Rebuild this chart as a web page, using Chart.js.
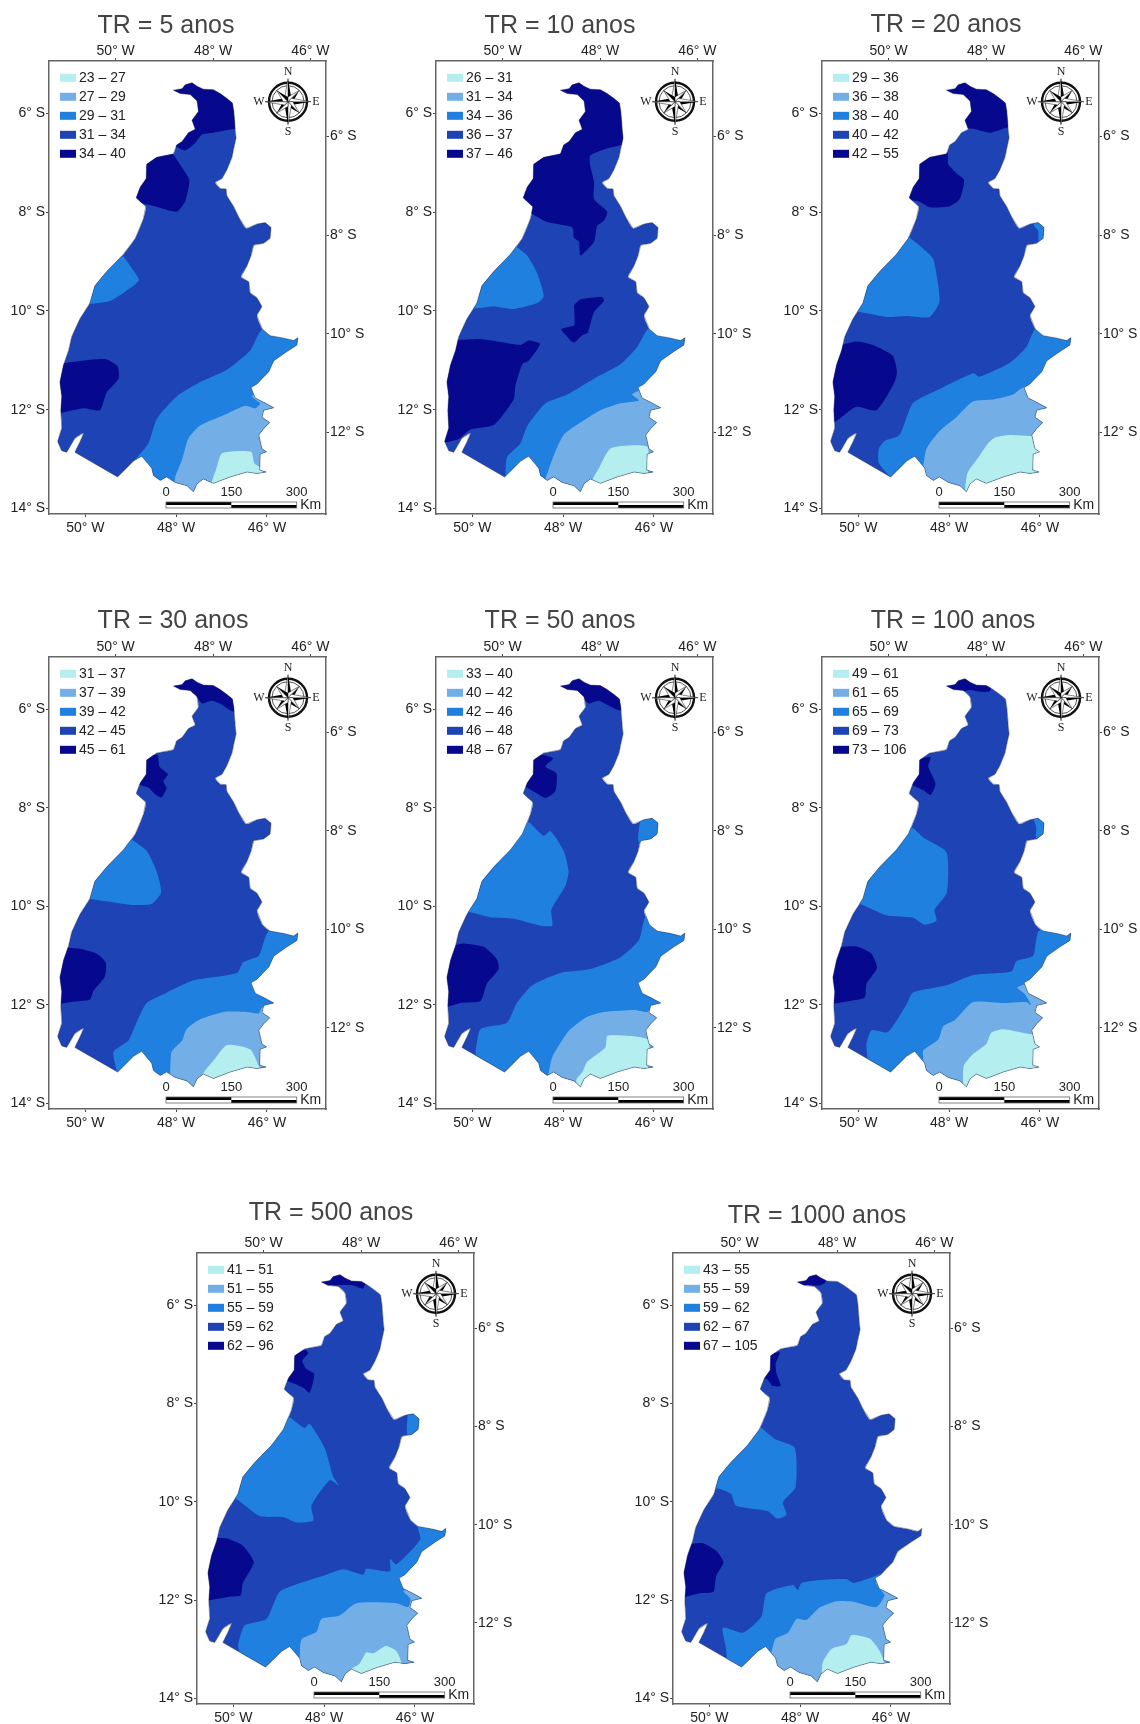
<!DOCTYPE html>
<html>
<head>
<meta charset="utf-8">
<script src="https://cdn.jsdelivr.net/npm/chart.js@4/dist/chart.umd.min.js"></script>
<style>
html, body { margin: 0; padding: 0; background: #fff; overflow: hidden; }
#page { position: relative; width: 1140px; height: 1724px; }
canvas { position: absolute; }
</style>
</head>
<body>
<div id="page"></div>
<script>
"use strict";
// all map data in degrees, [longitude W, latitude S]
const stateOutline = [[48.06,5.53],[47.87,5.50],[47.80,5.42],[47.65,5.38],[47.54,5.45],[47.40,5.51],[47.18,5.52],[47.03,5.60],[46.88,5.70],[46.76,5.79],[46.73,5.96],[46.71,6.18],[46.70,6.32],[46.68,6.50],[46.73,6.71],[46.77,6.89],[46.88,7.14],[46.99,7.32],[47.14,7.40],[47.03,7.52],[46.90,7.53],[46.88,7.67],[46.73,7.89],[46.62,8.10],[46.46,8.33],[46.22,8.24],[46.04,8.21],[45.91,8.31],[45.93,8.53],[46.07,8.63],[46.29,8.67],[46.35,8.88],[46.44,9.09],[46.57,9.31],[46.40,9.41],[46.37,9.63],[46.22,9.73],[46.11,9.91],[46.22,10.09],[46.10,10.37],[45.93,10.50],[45.63,10.55],[45.41,10.60],[45.32,10.54],[45.34,10.69],[45.56,10.82],[45.85,11.01],[45.96,11.23],[46.11,11.37],[46.22,11.48],[46.35,11.55],[46.26,11.76],[46.07,11.85],[45.85,11.96],[46.07,12.01],[46.11,12.15],[45.94,12.26],[46.07,12.38],[46.18,12.51],[46.11,12.79],[46.01,12.85],[46.15,12.90],[46.16,13.22],[46.02,13.26],[46.22,13.29],[46.44,13.26],[46.81,13.36],[47.18,13.49],[47.40,13.40],[47.54,13.50],[47.62,13.66],[47.76,13.54],[48.02,13.47],[48.21,13.36],[48.35,13.43],[48.50,13.33],[48.54,13.18],[48.76,12.94],[48.94,13.04],[49.29,13.36],[50.23,12.86],[50.12,12.65],[50.04,12.47],[50.23,12.58],[50.41,12.86],[50.52,12.83],[50.61,12.64],[50.52,12.37],[50.54,12.01],[50.52,11.73],[50.56,11.44],[50.48,11.09],[50.37,10.80],[50.30,10.52],[50.12,10.16],[49.90,9.84],[49.79,9.49],[49.53,9.20],[49.16,8.85],[48.90,8.53],[48.72,8.13],[48.67,7.89],[48.88,7.71],[48.79,7.49],[48.66,7.32],[48.65,7.03],[48.43,6.89],[48.06,6.82],[47.99,6.64],[47.87,6.57],[47.73,6.39],[47.58,6.32],[47.65,6.14],[47.51,5.96],[47.54,5.75],[47.69,5.62],[47.91,5.60]];

// each zone is [class index, polygon]; it may run past the border, the state outline clips it
const zonesTR5 = [
    [2, [[48.90,13.01],[48.61,12.68],[48.43,12.19],[47.99,11.73],[47.47,11.44],[46.88,11.19],[46.37,10.80],[46.10,10.37],[45.26,10.30],[45.26,13.79],[48.72,13.79]]],
    [1, [[48.06,13.65],[48.02,13.36],[47.87,13.01],[47.73,12.58],[47.47,12.32],[46.88,12.08],[46.48,11.92],[46.26,11.97],[46.15,11.87],[46.33,11.73],[46.18,11.65],[45.71,11.80],[45.71,13.79],[48.06,13.79]]],
    [0, [[47.29,13.65],[47.10,13.15],[46.99,12.88],[46.35,12.85],[46.28,13.08],[46.11,13.21],[45.93,13.79],[47.29,13.79]]],
    [2, [[49.16,8.90],[48.98,9.13],[48.82,9.38],[49.09,9.59],[49.46,9.80],[49.90,9.86],[50.19,9.86],[49.68,8.81]]],
    [4, [[47.99,6.68],[47.80,6.75],[47.58,6.60],[47.43,6.43],[47.18,6.39],[46.70,6.31],[46.37,6.31],[46.37,5.25],[48.21,5.25],[48.21,6.68]]],
    [4, [[48.94,7.78],[48.43,7.89],[47.99,7.99],[47.80,7.78],[47.71,7.35],[47.87,7.10],[48.06,6.84],[48.21,6.68],[48.94,6.68]]],
    [4, [[50.78,11.09],[49.82,10.98],[49.53,10.98],[49.29,11.12],[49.27,11.37],[49.53,11.65],[49.68,12.01],[50.04,11.97],[50.52,12.06],[50.78,12.06]]]
];
const zonesTR10 = [
    [2, [[49.27,13.35],[49.24,12.97],[48.94,12.68],[48.79,12.33],[48.39,11.87],[47.91,11.69],[47.32,11.37],[46.74,11.08],[46.37,10.73],[46.10,10.34],[45.26,10.30],[45.26,13.79],[49.09,13.79]]],
    [1, [[48.39,13.40],[48.21,12.93],[47.99,12.51],[47.62,12.26],[47.18,12.01],[46.74,11.87],[46.33,11.81],[46.48,11.69],[46.33,11.62],[45.78,11.73],[45.78,13.79],[48.43,13.79]]],
    [0, [[47.40,13.79],[47.38,13.47],[47.21,13.18],[46.95,12.78],[46.15,12.75],[46.13,13.26],[45.93,13.79]]],
    [2, [[49.03,8.70],[48.79,8.88],[48.57,9.24],[48.43,9.70],[48.57,9.84],[49.09,9.96],[49.53,9.91],[49.93,9.95],[50.19,9.95],[49.60,8.60]]],
    [4, [[46.70,6.64],[47.03,6.71],[47.40,6.85],[47.41,7.03],[47.32,7.39],[47.32,7.74],[47.03,7.99],[47.10,8.17],[47.25,8.28],[47.32,8.60],[47.62,8.88],[47.65,8.60],[47.76,8.52],[47.80,8.31],[48.35,8.20],[48.68,8.04],[48.94,7.96],[48.94,5.11],[46.44,5.11],[46.44,6.64]]],
    [4, [[47.76,9.88],[47.62,9.77],[47.14,9.72],[47.10,9.80],[47.32,10.02],[47.46,10.44],[47.58,10.49],[47.76,10.64],[47.91,10.52],[48.04,10.37],[47.76,10.29],[47.75,10.09]]],
    [4, [[50.34,10.59],[49.82,10.57],[48.94,10.69],[48.76,10.60],[48.51,10.67],[48.76,11.01],[48.90,11.08],[49.05,11.51],[49.09,11.79],[49.53,12.31],[50.04,12.40],[50.30,12.59],[50.60,12.66],[50.93,12.66],[50.93,10.59]]]
];
const zonesTR20 = [
    [2, [[49.31,13.35],[49.55,13.08],[49.55,12.79],[49.42,12.63],[49.09,12.51],[48.80,11.87],[48.21,11.58],[47.47,11.26],[47.33,11.33],[46.66,11.05],[46.30,10.73],[46.08,10.34],[45.27,10.30],[45.27,13.79],[49.09,13.79]]],
    [1, [[48.57,13.15],[48.50,12.79],[48.21,12.43],[47.84,12.15],[47.47,11.83],[47.03,11.79],[46.59,11.69],[46.37,11.55],[45.78,11.51],[45.78,13.79],[48.57,13.79]]],
    [0, [[47.66,13.79],[47.60,13.29],[47.33,12.93],[47.14,12.68],[46.99,12.56],[46.66,12.51],[46.22,12.53],[45.78,12.53],[45.78,13.79]]],
    [2, [[48.88,8.51],[48.57,8.74],[48.35,8.95],[48.21,9.80],[48.43,10.12],[48.94,10.10],[49.38,10.12],[49.97,10.02],[50.27,10.02],[49.60,8.45]]],
    [2, [[46.13,8.28],[46.04,8.38],[46.02,8.63],[45.78,8.63],[45.78,8.13],[46.13,8.13]]],
    [4, [[47.68,6.31],[47.47,6.31],[47.10,6.39],[46.70,6.28],[46.37,6.28],[46.37,5.11],[48.21,5.11],[48.21,6.31]]],
    [4, [[49.02,7.76],[48.68,7.78],[48.43,7.90],[47.99,7.88],[47.77,7.74],[47.67,7.35],[47.84,7.21],[48.02,7.03],[48.05,6.78],[49.02,6.78]]],
    [4, [[50.38,10.69],[50.05,10.62],[49.68,10.69],[49.24,10.91],[49.15,11.23],[49.20,11.44],[49.60,12.01],[50.05,11.94],[50.54,12.26],[50.85,12.26],[50.85,10.69]]]
];
const zonesTR30 = [
    [2, [[49.31,13.33],[49.38,12.95],[49.05,12.72],[48.87,12.35],[48.65,11.96],[48.21,11.75],[47.62,11.50],[46.66,11.35],[46.52,11.13],[46.18,11.00],[45.96,10.50],[45.26,10.43],[45.26,13.77],[48.94,13.77]]],
    [1, [[48.13,13.33],[48.10,12.95],[47.87,12.72],[47.77,12.49],[47.47,12.29],[46.96,12.14],[46.44,12.14],[46.18,12.17],[46.11,12.05],[45.78,12.05],[45.78,13.77],[48.13,13.77]]],
    [0, [[47.41,13.77],[47.41,13.40],[47.18,13.13],[46.88,12.81],[46.37,12.90],[46.18,13.24],[45.93,13.77]]],
    [2, [[48.98,8.64],[48.65,8.87],[48.43,9.29],[48.33,9.72],[48.54,9.95],[48.94,9.97],[49.31,9.93],[49.90,9.85],[50.19,9.85],[49.53,8.58]]],
    [4, [[47.58,5.70],[47.43,5.88],[47.21,5.83],[46.99,5.91],[46.77,6.04],[46.44,6.04],[46.44,5.24],[48.21,5.24],[48.21,5.70]]],
    [4, [[48.72,6.95],[48.41,6.93],[48.37,7.16],[48.18,7.32],[48.28,7.46],[48.21,7.60],[48.32,7.79],[48.46,7.73],[48.61,7.59],[48.81,7.53],[48.98,7.44]]],
    [4, [[50.37,10.84],[50.12,10.86],[49.75,10.96],[49.55,11.14],[49.57,11.42],[49.82,11.71],[49.90,11.89],[50.30,11.94],[50.52,11.97],[50.78,11.97],[50.78,10.84]]]
];
const zonesTR50 = [
    [2, [[49.93,12.95],[49.82,12.49],[49.24,12.36],[49.02,11.96],[48.68,11.60],[48.06,11.35],[47.40,11.27],[46.74,11.03],[46.33,10.68],[46.15,10.15],[45.27,10.07],[45.27,13.77],[49.82,13.77]]],
    [1, [[48.32,13.38],[48.24,13.06],[47.88,12.53],[47.47,12.24],[47.10,12.14],[46.44,12.10],[46.15,12.14],[46.04,12.05],[45.71,12.05],[45.71,13.77],[48.32,13.77]]],
    [0, [[47.69,13.77],[47.71,13.52],[47.57,13.35],[47.47,13.15],[47.07,12.86],[47.02,12.62],[46.13,12.70],[46.13,13.24],[45.93,13.77]]],
    [2, [[48.74,8.30],[48.43,8.57],[48.28,8.47],[47.99,8.87],[47.88,9.29],[47.95,9.58],[48.26,10.07],[48.24,10.39],[48.50,10.39],[49.09,10.25],[49.60,10.22],[50.10,10.11],[50.34,10.11],[49.38,8.23]]],
    [2, [[46.31,8.28],[46.33,8.69],[45.78,8.69],[45.78,8.12],[46.31,8.12]]],
    [4, [[47.62,5.70],[47.44,5.88],[47.21,5.83],[46.96,5.95],[46.77,6.02],[46.44,6.02],[46.44,5.24],[48.21,5.24],[48.21,5.70]]],
    [4, [[48.72,6.95],[48.43,6.93],[48.22,7.00],[48.39,7.16],[48.15,7.30],[48.17,7.66],[48.39,7.80],[48.61,7.69],[48.80,7.59],[48.98,7.51]]],
    [4, [[50.40,10.79],[50.19,10.75],[49.75,10.82],[49.46,11.07],[49.42,11.27],[49.68,11.57],[49.82,11.92],[50.27,11.96],[50.52,12.03],[50.78,12.03],[50.78,10.79]]]
];
const zonesTR100 = [
    [2, [[49.81,13.00],[49.82,12.78],[49.71,12.51],[49.35,12.55],[48.94,11.99],[48.80,11.75],[48.06,11.60],[47.47,11.39],[46.63,11.32],[46.52,11.11],[46.15,11.00],[46.02,10.50],[45.19,10.43],[45.19,13.77],[49.68,13.77]]],
    [1, [[48.57,13.10],[48.57,12.92],[48.24,12.70],[48.13,12.43],[47.88,12.31],[47.47,11.94],[46.81,11.96],[46.30,11.94],[46.19,12.01],[46.33,11.78],[46.50,11.65],[46.30,11.58],[45.78,11.71],[45.78,13.77],[48.57,13.77]]],
    [0, [[47.69,13.77],[47.68,13.24],[47.47,12.99],[47.18,12.79],[47.07,12.56],[46.81,12.49],[46.15,12.60],[45.78,12.60],[45.78,13.77]]],
    [2, [[48.78,8.42],[48.57,8.60],[48.06,8.90],[48.05,9.72],[48.32,10.07],[48.28,10.29],[48.54,10.37],[48.80,10.23],[49.38,10.18],[49.97,9.95],[50.27,9.95],[49.46,8.33]]],
    [2, [[46.13,8.26],[46.08,8.40],[46.08,8.62],[45.78,8.62],[45.78,8.12],[46.13,8.12]]],
    [4, [[47.69,5.65],[47.55,5.61],[47.29,5.65],[47.10,5.63],[47.07,5.49],[47.07,5.24],[48.28,5.24],[48.28,5.65]]],
    [4, [[48.72,7.02],[48.41,6.97],[48.46,7.16],[48.30,7.51],[48.41,7.74],[48.57,7.64],[48.78,7.55],[48.94,7.48]]],
    [4, [[50.38,10.82],[50.05,10.81],[49.71,10.96],[49.59,11.25],[49.82,11.57],[49.86,11.85],[50.19,11.92],[50.52,11.97],[50.78,11.97],[50.78,10.82]]]
];
const zonesTR500 = [
    [2, [[49.90,12.91],[49.75,12.51],[49.27,12.38],[48.98,11.83],[48.46,11.63],[47.95,11.48],[47.58,11.37],[47.14,11.48],[47.07,11.36],[46.55,11.41],[46.55,11.16],[46.41,11.27],[46.04,10.95],[45.88,10.75],[45.93,10.48],[45.23,10.43],[45.23,14.00],[49.64,14.00]]],
    [1, [[48.54,13.32],[48.50,12.80],[48.17,12.64],[48.06,12.38],[47.66,12.31],[47.29,12.06],[46.41,12.06],[46.15,12.14],[46.10,11.97],[46.26,11.81],[45.75,11.81],[45.75,14.00],[48.54,14.00]]],
    [0, [[47.40,13.39],[47.22,13.29],[47.07,13.06],[46.92,13.08],[46.64,12.93],[46.41,13.03],[46.31,13.24],[46.31,14.00],[47.40,14.00]]],
    [2, [[48.74,8.29],[48.43,8.50],[48.32,8.41],[47.99,8.90],[47.80,9.49],[47.68,9.67],[47.88,9.56],[48.28,10.08],[48.24,10.38],[48.61,10.42],[48.91,10.31],[49.42,10.29],[49.94,9.94],[50.23,9.94],[49.49,8.17]]],
    [2, [[46.16,8.20],[46.16,8.64],[45.75,8.64],[45.75,8.10],[46.16,8.10]]],
    [4, [[47.95,5.60],[47.58,5.59],[47.36,5.60],[47.14,5.66],[47.08,5.48],[47.08,5.24],[48.24,5.24],[48.24,5.60]]],
    [4, [[48.80,6.98],[48.41,6.91],[48.35,6.98],[48.48,7.13],[48.39,7.30],[48.22,7.40],[48.32,7.78],[48.46,7.68],[48.65,7.60],[48.83,7.54]]],
    [4, [[50.34,10.73],[50.12,10.75],[49.79,10.89],[49.55,11.23],[49.79,11.65],[49.84,11.90],[50.08,11.93],[50.52,12.00],[50.74,12.00],[50.74,10.73]]]
];
const zonesTR1000 = [
    [2, [[49.63,12.99],[49.70,12.56],[49.26,12.66],[48.85,12.33],[48.74,11.86],[48.16,11.69],[48.05,11.79],[47.97,11.65],[47.42,11.58],[46.98,11.57],[46.83,11.65],[46.36,11.51],[46.17,11.44],[45.66,11.44],[45.66,14.00],[49.55,14.00]]],
    [1, [[48.63,13.05],[48.54,12.78],[48.27,12.66],[48.08,12.38],[47.86,12.40],[47.57,12.15],[47.20,12.02],[46.83,12.03],[46.32,12.14],[46.14,11.90],[46.23,11.78],[46.33,11.64],[45.66,11.64],[45.66,14.00],[48.63,14.00]]],
    [0, [[47.51,14.00],[47.51,13.29],[47.31,12.99],[46.98,12.89],[46.87,12.71],[46.47,12.78],[46.25,13.03],[46.14,13.29],[46.14,14.00]]],
    [2, [[48.85,8.50],[48.56,8.72],[48.12,8.90],[48.10,9.70],[48.38,10.01],[48.30,10.26],[48.51,10.34],[48.71,10.19],[49.41,10.08],[49.52,9.84],[49.81,9.73],[50.07,9.73],[49.55,8.38]]],
    [4, [[47.86,5.59],[47.57,5.60],[47.44,5.53],[47.44,5.24],[48.23,5.24],[48.23,5.59]]],
    [4, [[48.78,7.02],[48.45,6.96],[48.54,7.19],[48.52,7.39],[48.43,7.64],[48.61,7.64],[48.73,7.50],[48.85,7.50]]],
    [4, [[50.38,10.85],[50.14,10.84],[49.85,10.99],[49.69,11.23],[49.85,11.51],[49.91,11.83],[50.21,11.86],[50.52,11.93],[50.73,11.93],[50.73,10.85]]]
];

const lonTicks = [50, 48, 46];
const latTicksLeft = [6, 8, 10, 12, 14];
const latTicksRight = [6, 8, 10, 12];

const classesTR5 = ['23 – 27', '27 – 29', '29 – 31', '31 – 34', '34 – 40'];
const classesTR10 = ['26 – 31', '31 – 34', '34 – 36', '36 – 37', '37 – 46'];
const classesTR20 = ['29 – 36', '36 – 38', '38 – 40', '40 – 42', '42 – 55'];
const classesTR30 = ['31 – 37', '37 – 39', '39 – 42', '42 – 45', '45 – 61'];
const classesTR50 = ['33 – 40', '40 – 42', '42 – 46', '46 – 48', '48 – 67'];
const classesTR100 = ['49 – 61', '61 – 65', '65 – 69', '69 – 73', '73 – 106'];
const classesTR500 = ['41 – 51', '51 – 55', '55 – 59', '59 – 62', '62 – 96'];
const classesTR1000 = ['43 – 55', '55 – 59', '59 – 62', '62 – 67', '67 – 105'];

const classColors = ['#b4eeee', '#73afe6', '#1f80df', '#1e43b5', '#06098e'];
const TEXT_FONT = '"Liberation Sans", Arial, sans-serif';

// page placement of every map: canvas corner plus title anchor inside the canvas
const panels = [
    { title: 'TR = 5 anos', zones: zonesTR5, classes: classesTR5, left: 0, top: 0, height: 540, bottomGap: 26, titleX: 166, titleY: 26 },
    { title: 'TR = 10 anos', zones: zonesTR10, classes: classesTR10, left: 387, top: 0, height: 540, bottomGap: 26, titleX: 173, titleY: 26 },
    { title: 'TR = 20 anos', zones: zonesTR20, classes: classesTR20, left: 773, top: 0, height: 540, bottomGap: 26, titleX: 173, titleY: 25 },
    { title: 'TR = 30 anos', zones: zonesTR30, classes: classesTR30, left: 0, top: 596, height: 539, bottomGap: 26, titleX: 173, titleY: 25 },
    { title: 'TR = 50 anos', zones: zonesTR50, classes: classesTR50, left: 387, top: 596, height: 539, bottomGap: 26, titleX: 173, titleY: 25 },
    { title: 'TR = 100 anos', zones: zonesTR100, classes: classesTR100, left: 773, top: 596, height: 539, bottomGap: 26, titleX: 180, titleY: 25 },
    { title: 'TR = 500 anos', zones: zonesTR500, classes: classesTR500, left: 148, top: 1192, height: 532, bottomGap: 20, titleX: 183, titleY: 21 },
    { title: 'TR = 1000 anos', zones: zonesTR1000, classes: classesTR1000, left: 624, top: 1192, height: 532, bottomGap: 20, titleX: 193, titleY: 24 }
];

function tracePolygon(chart, points) {
    const { x, y } = chart.scales;
    const ctx = chart.ctx;
    ctx.beginPath();
    points.forEach((p, i) => {
        const px = x.getPixelForValue(p[0]);
        const py = y.getPixelForValue(p[1]);
        if (i === 0)
            ctx.moveTo(px, py);
        else
            ctx.lineTo(px, py);
    });
    ctx.closePath();
}

function drawCompass(ctx, cx, cy) {
    ctx.save();
    ctx.translate(cx, cy);
    ctx.strokeStyle = '#111';
    ctx.lineWidth = 2.4;
    ctx.beginPath();
    ctx.arc(0, 0, 19, 0, Math.PI * 2);
    ctx.stroke();
    ctx.lineWidth = 0.7;
    ctx.beginPath();
    ctx.arc(0, 0, 16, 0, Math.PI * 2);
    ctx.stroke();
    for (let i = 0; i < 8; i++) {
        const reach = i % 2 === 0 ? 23 : 16;
        ctx.save();
        ctx.rotate(i * Math.PI / 4);
        ctx.fillStyle = '#000';
        ctx.beginPath();
        ctx.moveTo(0, -reach);
        ctx.lineTo(3.4, -3.4);
        ctx.lineTo(0, 0);
        ctx.closePath();
        ctx.fill();
        ctx.fillStyle = '#fff';
        ctx.lineWidth = 0.5;
        ctx.beginPath();
        ctx.moveTo(0, -reach);
        ctx.lineTo(-3.4, -3.4);
        ctx.lineTo(0, 0);
        ctx.closePath();
        ctx.fill();
        ctx.stroke();
        ctx.restore();
    }
    ctx.fillStyle = '#222';
    ctx.font = '12px "Liberation Serif", serif';
    ctx.textAlign = 'center';
    ctx.textBaseline = 'middle';
    ctx.fillText('N', 0, -29.5);
    ctx.fillText('S', 0, 30);
    ctx.fillText('E', 28, 0.5);
    ctx.fillText('W', -29, 0);
    ctx.restore();
}

function drawScaleBar(ctx, area) {
    const x0 = area.left + 117;
    const mid = x0 + 65.3;
    const x1 = x0 + 130.7;
    const y0 = area.bottom - 12;
    ctx.fillStyle = '#000';
    ctx.fillRect(x0, y0, mid - x0, 3);
    ctx.fillRect(mid, y0 + 3, x1 - mid, 3);
    ctx.strokeStyle = '#666';
    ctx.lineWidth = 0.8;
    ctx.strokeRect(x0, y0, x1 - x0, 6);
    ctx.fillStyle = '#222';
    ctx.font = '13px ' + TEXT_FONT;
    ctx.textAlign = 'center';
    ctx.textBaseline = 'middle';
    ctx.fillText('0', x0, y0 - 10);
    ctx.fillText('150', mid, y0 - 10);
    ctx.fillText('300', x1, y0 - 10);
    ctx.font = '14px ' + TEXT_FONT;
    ctx.fillText('Km', x1 + 14, y0 + 3);
}

// clips the zones to the state shape and adds everything that is not a scale or a zone
const mapPlugin = {
    id: 'mapPlugin',
    beforeDatasetsDraw(chart) {
        chart.ctx.save();
        tracePolygon(chart, stateOutline);
        chart.ctx.clip();
    },
    afterDatasetsDraw(chart) {
        const ctx = chart.ctx;
        ctx.restore();
        tracePolygon(chart, stateOutline);
        ctx.strokeStyle = 'rgba(45,50,80,0.65)';
        ctx.lineWidth = 0.7;
        ctx.stroke();
    },
    afterDraw(chart, args, opts) {
        const ctx = chart.ctx;
        const area = chart.chartArea;
        ctx.save();
        ctx.fillStyle = '#444';
        ctx.font = '25px ' + TEXT_FONT;
        ctx.textAlign = 'center';
        ctx.textBaseline = 'middle';
        ctx.fillText(opts.title, opts.titleX, opts.titleY);
        ctx.font = '14px ' + TEXT_FONT;
        ctx.textAlign = 'left';
        opts.classes.forEach((label, i) => {
            const rowY = area.top + 16.8 + i * 19;
            ctx.fillStyle = classColors[i];
            ctx.fillRect(area.left + 11, rowY - 4, 16, 8);
            ctx.fillStyle = '#222';
            ctx.fillText(label, area.left + 30, rowY);
        });
        drawCompass(ctx, area.left + 239, area.top + 40.7);
        drawScaleBar(ctx, area);
        ctx.restore();
    }
};

function zoneDataset(points, classIndex) {
    return {
        data: points,
        showLine: true,
        fill: 'shape',
        backgroundColor: classColors[classIndex],
        borderWidth: 0,
        pointRadius: 0,
        tension: 0.2
    };
}

function axis(position, min, max, ticks, unit, size) {
    const horizontal = position === 'top' || position === 'bottom';
    const pads = { top: -2, bottom: 3, left: 1, right: 1 };
    return {
        type: 'linear',
        axis: horizontal ? 'x' : 'y',
        position: position,
        min: min,
        max: max,
        reverse: true,
        afterBuildTicks: s => { s.ticks = ticks.map(v => ({ value: v })); },
        afterFit: s => {
            if (horizontal)
                s.height = size;
            else
                s.width = size;
        },
        border: { display: true, color: '#666', width: 1.5 },
        grid: { drawOnChartArea: false, drawTicks: true, tickLength: 3, color: '#444' },
        ticks: {
            autoSkip: false,
            maxRotation: 0,
            padding: pads[position],
            color: '#222',
            font: { family: TEXT_FONT, size: 14 },
            callback: v => v + '° ' + unit
        }
    };
}

const page = document.getElementById('page');
panels.forEach(p => {
    const canvas = document.createElement('canvas');
    canvas.width = 367;
    canvas.height = p.height;
    canvas.style.left = p.left + 'px';
    canvas.style.top = p.top + 'px';
    page.appendChild(canvas);
    const layers = [zoneDataset(stateOutline, 3)].concat(p.zones.map(z => zoneDataset(z[1], z[0])));
    // @ts-ignore
    new Chart(canvas, {
        type: 'scatter',
        data: { datasets: layers.reverse() },
        options: {
            responsive: false,
            animation: false,
            events: [],
            layout: { padding: 0 },
            plugins: {
                legend: { display: false },
                tooltip: { enabled: false },
                mapPlugin: { title: p.title, titleX: p.titleX, titleY: p.titleY, classes: p.classes }
            },
            scales: {
                x: axis('bottom', 44.70, 50.80, lonTicks, 'W', p.bottomGap),
                y: axis('left', 4.94, 14.11, latTicksLeft, 'S', 49),
                x2: axis('top', 45.68, 51.37, lonTicks, 'W', 61),
                y2: axis('right', 4.47, 13.65, latTicksRight, 'S', 41)
            }
        },
        plugins: [mapPlugin]
    });
});
</script>
</body>
</html>
